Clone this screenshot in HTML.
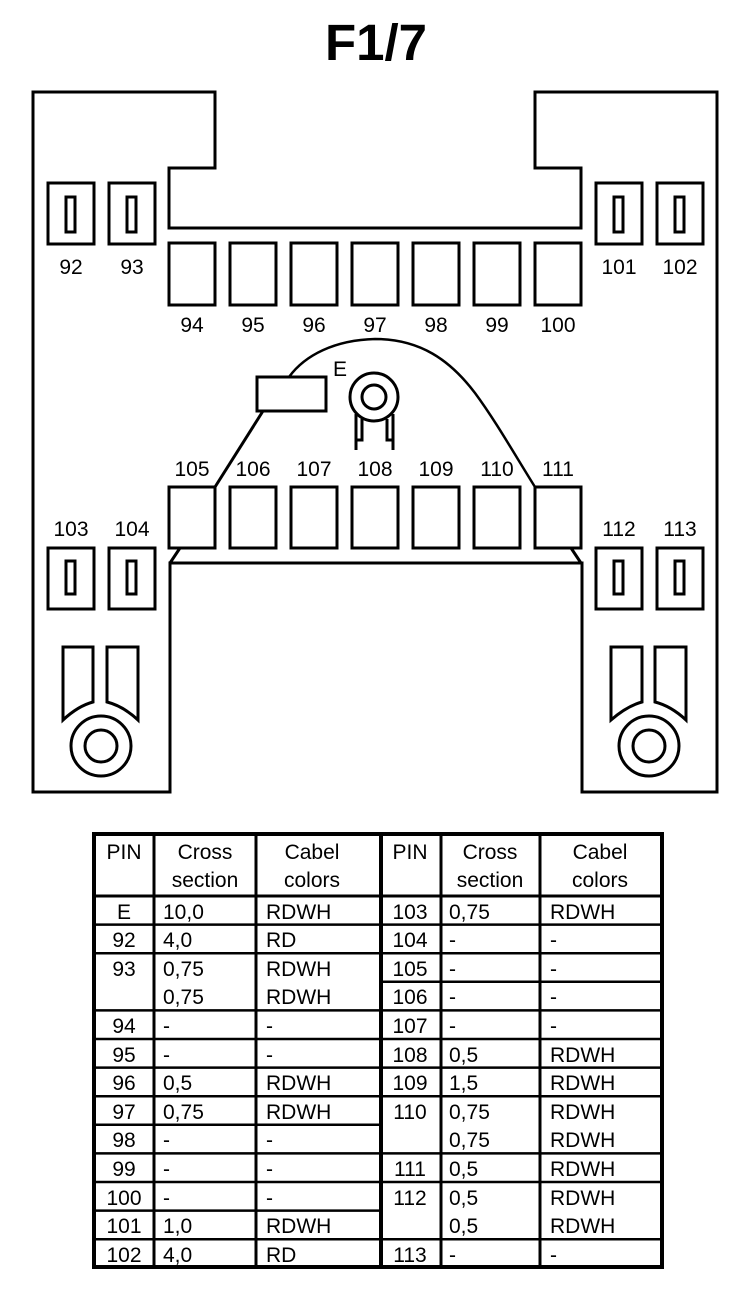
<!DOCTYPE html>
<html><head><meta charset="utf-8"><style>
html,body{margin:0;padding:0;background:#fff;}
svg{display:block;}
text{font-family:"Liberation Sans",sans-serif;fill:#000;}
</style></head><body>
<svg width="752" height="1292" viewBox="0 0 752 1292" xmlns="http://www.w3.org/2000/svg">
<text x="376" y="60" font-size="51" font-weight="bold" text-anchor="middle">F1/7</text>
<g fill="none" stroke="#000" stroke-width="3">
<path d="M33,92 H215 V168 H169 V228 H581 V168 H535 V92 H717 V792 H582 V563 H170 V792 H33 Z"/>
<!-- small pins -->
<rect x="48" y="183" width="46" height="61"/><rect x="66" y="197" width="9" height="35"/>
<rect x="109" y="183" width="46" height="61"/><rect x="127" y="197" width="9" height="35"/>
<rect x="596" y="183" width="46" height="61"/><rect x="614" y="197" width="9" height="35"/>
<rect x="657" y="183" width="46" height="61"/><rect x="675" y="197" width="9" height="35"/>
<rect x="48" y="548" width="46" height="61"/><rect x="66" y="561" width="9" height="33"/>
<rect x="109" y="548" width="46" height="61"/><rect x="127" y="561" width="9" height="33"/>
<rect x="596" y="548" width="46" height="61"/><rect x="614" y="561" width="9" height="33"/>
<rect x="657" y="548" width="46" height="61"/><rect x="675" y="561" width="9" height="33"/>
<!-- top row -->
<rect x="169" y="243" width="46" height="62"/><rect x="230" y="243" width="46" height="62"/>
<rect x="291" y="243" width="46" height="62"/><rect x="352" y="243" width="46" height="62"/>
<rect x="413" y="243" width="46" height="62"/><rect x="474" y="243" width="46" height="62"/>
<rect x="535" y="243" width="46" height="62"/>
<!-- bottom row -->
<rect x="169" y="487" width="46" height="61"/><rect x="230" y="487" width="46" height="61"/>
<rect x="291" y="487" width="46" height="61"/><rect x="352" y="487" width="46" height="61"/>
<rect x="413" y="487" width="46" height="61"/><rect x="474" y="487" width="46" height="61"/>
<rect x="535" y="487" width="46" height="61"/>
<path d="M180,548 L170,563 M571,548 L581,563"/>
<!-- dome -->
<path d="M215,487 L263,411"/>
<rect x="257" y="377" width="69" height="34"/>
<path d="M289,377 C305,355 335,340 375,339 C420,339 450,360 475,393 C495,420 515,455 535,487" stroke-width="2.5"/>
<circle cx="374" cy="397" r="24"/><circle cx="374" cy="397" r="12"/>
<path d="M356,414 V450 M362,419 V440 H356 M393,414 V450 M387,419 V440 H393"/>
<!-- bottom connectors -->
<path d="M63,647 H93 V702 Q78,706 63,720 Z"/>
<path d="M107,647 H138 V720 Q123,706 107,702 Z"/>
<circle cx="101" cy="746" r="30"/><circle cx="101" cy="746" r="16"/>
<path d="M611,647 H642 V702 Q627,706 611,720 Z"/>
<path d="M655,647 H686 V720 Q671,706 655,702 Z"/>
<circle cx="649" cy="746" r="30"/><circle cx="649" cy="746" r="16"/>
</g>
<g font-size="21" text-anchor="middle">
<text x="71" y="274">92</text><text x="132" y="274">93</text>
<text x="619" y="274">101</text><text x="680" y="274">102</text>
<text x="192" y="332">94</text><text x="253" y="332">95</text><text x="314" y="332">96</text>
<text x="375" y="332">97</text><text x="436" y="332">98</text><text x="497" y="332">99</text><text x="558" y="332">100</text>
<text x="192" y="476">105</text><text x="253" y="476">106</text><text x="314" y="476">107</text>
<text x="375" y="476">108</text><text x="436" y="476">109</text><text x="497" y="476">110</text><text x="558" y="476">111</text>
<text x="71" y="536">103</text><text x="132" y="536">104</text>
<text x="619" y="536">112</text><text x="680" y="536">113</text>
<text x="340" y="376">E</text>
</g>
<!-- table -->
<g stroke="#000" fill="none">
<rect x="94" y="834" width="568" height="433" stroke-width="4"/>
<path d="M381,834 V1267" stroke-width="4"/>
<path d="M154,834 V1267 M256,834 V1267 M441,834 V1267 M540,834 V1267" stroke-width="3"/>
<path d="M94,896 H662" stroke-width="3"/>
<g stroke-width="2.5">
<path d="M94,924.6 H662 M94,953.2 H662 M381,981.8 H662 M94,1010.4 H662 M94,1039 H662 M94,1067.6 H662 M94,1096.2 H662 M94,1124.8 H381 M94,1153.4 H662 M94,1182 H662 M94,1210.6 H381 M94,1239.2 H662"/>
</g>
</g>
<g font-size="21">
<g text-anchor="middle">
<text x="124" y="859">PIN</text><text x="205" y="859">Cross</text><text x="205" y="887">section</text>
<text x="312" y="859">Cabel</text><text x="312" y="887">colors</text>
<text x="410" y="859">PIN</text><text x="490" y="859">Cross</text><text x="490" y="887">section</text>
<text x="600" y="859">Cabel</text><text x="600" y="887">colors</text>
<text x="124" y="919">E</text><text x="124" y="947">92</text><text x="124" y="976">93</text>
<text x="124" y="1033">94</text><text x="124" y="1062">95</text><text x="124" y="1090">96</text>
<text x="124" y="1119">97</text><text x="124" y="1147">98</text><text x="124" y="1176">99</text>
<text x="124" y="1205">100</text><text x="124" y="1233">101</text><text x="124" y="1262">102</text>
<text x="410" y="919">103</text><text x="410" y="947">104</text><text x="410" y="976">105</text>
<text x="410" y="1004">106</text><text x="410" y="1033">107</text><text x="410" y="1062">108</text>
<text x="410" y="1090">109</text><text x="410" y="1119">110</text><text x="410" y="1176">111</text>
<text x="410" y="1205">112</text><text x="410" y="1262">113</text>
</g>
<g>
<text x="163" y="919">10,0</text><text x="266" y="919">RDWH</text>
<text x="163" y="947">4,0</text><text x="266" y="947">RD</text>
<text x="163" y="976">0,75</text><text x="266" y="976">RDWH</text>
<text x="163" y="1004">0,75</text><text x="266" y="1004">RDWH</text>
<text x="163" y="1033">-</text><text x="266" y="1033">-</text>
<text x="163" y="1062">-</text><text x="266" y="1062">-</text>
<text x="163" y="1090">0,5</text><text x="266" y="1090">RDWH</text>
<text x="163" y="1119">0,75</text><text x="266" y="1119">RDWH</text>
<text x="163" y="1147">-</text><text x="266" y="1147">-</text>
<text x="163" y="1176">-</text><text x="266" y="1176">-</text>
<text x="163" y="1205">-</text><text x="266" y="1205">-</text>
<text x="163" y="1233">1,0</text><text x="266" y="1233">RDWH</text>
<text x="163" y="1262">4,0</text><text x="266" y="1262">RD</text>

<text x="449" y="919">0,75</text><text x="550" y="919">RDWH</text>
<text x="449" y="947">-</text><text x="550" y="947">-</text>
<text x="449" y="976">-</text><text x="550" y="976">-</text>
<text x="449" y="1004">-</text><text x="550" y="1004">-</text>
<text x="449" y="1033">-</text><text x="550" y="1033">-</text>
<text x="449" y="1062">0,5</text><text x="550" y="1062">RDWH</text>
<text x="449" y="1090">1,5</text><text x="550" y="1090">RDWH</text>
<text x="449" y="1119">0,75</text><text x="550" y="1119">RDWH</text>
<text x="449" y="1147">0,75</text><text x="550" y="1147">RDWH</text>
<text x="449" y="1176">0,5</text><text x="550" y="1176">RDWH</text>
<text x="449" y="1205">0,5</text><text x="550" y="1205">RDWH</text>
<text x="449" y="1233">0,5</text><text x="550" y="1233">RDWH</text>
<text x="449" y="1262">-</text><text x="550" y="1262">-</text>
</g>
</g>
</svg>
</body></html>
